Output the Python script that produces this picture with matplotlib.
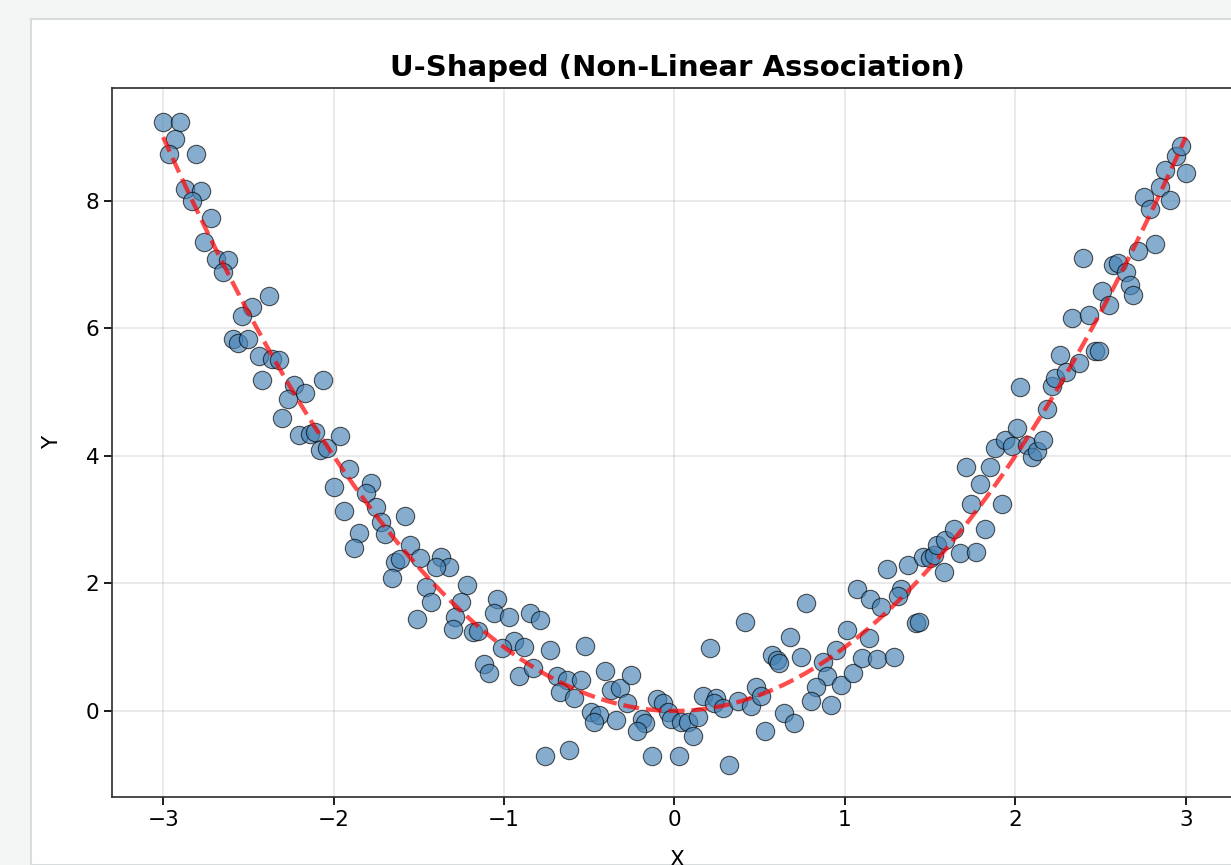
import matplotlib.pyplot as plt
import numpy as np
from matplotlib.patches import Rectangle

# scatter samples around y = x^2
X = [
    -3.00, -2.90, -2.93, -2.965, -2.81, -2.87, -2.78, -2.83, -2.72, -2.76,
    -2.69, -2.62, -2.65, -2.38, -2.48, -2.54, -2.59, -2.56, -2.50, -2.44,
    -2.36, -2.32, -2.42, -2.06, -2.23, -2.17, -2.27, -2.30, -2.20, -2.14,
    -2.11, -2.08, -2.04,
    -1.96, -1.91, -2.00, -1.78, -1.81, -1.94, -1.75, -1.72, -1.58, -1.70,
    -1.85, -1.88, -1.55, -1.64, -1.61, -1.49, -1.37, -1.32, -1.40, -1.66,
    -1.46, -1.22, -1.43, -1.25, -1.51, -1.29, -1.30, -1.18,
    -1.04, -1.06, -0.97, -0.85, -0.79, -1.15, -0.94, -0.88, -1.01, -0.73,
    -0.525, -1.12, -1.09, -0.91, -0.83, -0.69, -0.63, -0.55, -0.67, -0.59,
    -0.41, -0.37, -0.32, -0.255, -0.49, -0.44, -0.47, -0.34, -0.76, -0.62,
    -0.28, -0.105, -0.066, -0.037, -0.19, -0.17, -0.22, -0.018, 0.04, 0.08,
    0.14, 0.11, -0.13, 0.025, 0.32, 0.17, 0.245, 0.23, 0.285, 0.37,
    0.45, 0.48, 0.51, 0.21, 0.415, 0.57, 0.60, 0.616, 0.68, 0.53, 0.645,
    0.70, 0.77, 0.74, 0.87, 0.95, 0.895, 0.83, 0.80, 0.92, 0.98,
    1.045, 1.01, 1.10, 1.14, 1.19, 1.29, 1.07, 1.15, 1.21, 1.25,
    1.37, 1.33, 1.31, 1.415, 1.435, 1.46, 1.50, 1.52, 1.58, 1.54,
    1.59, 1.64, 1.675,
    1.77, 1.825, 1.74, 1.92, 1.79, 1.71, 1.85, 1.88, 1.94, 2.01,
    1.98, 2.07, 2.10, 2.13, 2.16, 2.03, 2.185, 2.215, 2.23, 2.26,
    2.30, 2.375, 2.33, 2.43, 2.47, 2.49, 2.40, 2.51, 2.55, 2.575,
    2.60, 2.65, 2.67, 2.69, 2.72, 2.82, 2.755, 2.79, 2.85, 2.905,
    2.88, 2.94, 2.975, 3.00,
]
Y = [
    9.24, 9.23, 8.97, 8.74, 8.74, 8.18, 8.16, 8.00, 7.73, 7.36,
    7.09, 7.07, 6.89, 6.50, 6.34, 6.20, 5.83, 5.77, 5.83, 5.57,
    5.52, 5.50, 5.19, 5.19, 5.11, 4.98, 4.89, 4.59, 4.33, 4.35,
    4.38, 4.09, 4.12,
    4.31, 3.79, 3.51, 3.58, 3.42, 3.14, 3.20, 2.97, 3.05, 2.78,
    2.79, 2.55, 2.60, 2.34, 2.38, 2.40, 2.42, 2.25, 2.25, 2.08,
    1.95, 1.98, 1.71, 1.71, 1.44, 1.48, 1.28, 1.24,
    1.75, 1.53, 1.47, 1.53, 1.42, 1.26, 1.09, 1.01, 0.98, 0.96,
    1.02, 0.74, 0.60, 0.54, 0.67, 0.54, 0.49, 0.49, 0.30, 0.20,
    0.62, 0.33, 0.36, 0.56, -0.01, -0.06, -0.17, -0.14, -0.71, -0.61,
    0.13, 0.18, 0.13, -0.01, -0.13, -0.19, -0.32, -0.13, -0.18, -0.17,
    -0.09, -0.40, -0.71, -0.71, -0.85, 0.24, 0.20, 0.13, 0.04, 0.15,
    0.07, 0.38, 0.24, 0.98, 1.40, 0.88, 0.80, 0.75, 1.16, -0.31, -0.04,
    -0.19, 1.69, 0.85, 0.77, 0.95, 0.54, 0.38, 0.15, 0.09, 0.41,
    0.60, 1.27, 0.83, 1.14, 0.81, 0.85, 1.92, 1.75, 1.63, 2.22,
    2.29, 1.92, 1.80, 1.375, 1.40, 2.42, 2.40, 2.45, 2.18, 2.60,
    2.68, 2.86, 2.47,
    2.50, 2.85, 3.25, 3.25, 3.56, 3.83, 3.83, 4.12, 4.25, 4.43,
    4.15, 4.17, 3.99, 4.07, 4.25, 5.08, 4.73, 5.10, 5.22, 5.58,
    5.32, 5.46, 6.17, 6.21, 5.64, 5.65, 7.10, 6.58, 6.37, 7.00,
    7.02, 6.89, 6.68, 6.53, 7.22, 7.33, 8.06, 7.87, 8.22, 8.02,
    8.49, 8.70, 8.86, 8.43,
]
X_TICKS = [-3, -2, -1, 0, 1, 2, 3]
Y_TICKS = [0, 2, 4, 6, 8]

W, H = 1231, 865
fig = plt.figure(figsize=(W / 100, H / 100), dpi=100, facecolor="#f4f6f6")
# white card behind the axes
fig.patches.append(Rectangle((31 / W, 0), 1.0, (H - 19) / H, transform=fig.transFigure,
                             facecolor="white", edgecolor="#d8dcdc", lw=1.5, zorder=-10))

ax = fig.add_axes([112 / W, (H - 797) / H, 1130 / W, (797 - 88) / H])
ax.set_facecolor("white")
ax.scatter(X, Y, s=175, color="steelblue", alpha=0.65, edgecolors="black",
           linewidths=0.8, zorder=3)

xs = np.linspace(-3, 3, 200)
ax.plot(xs, xs ** 2, "--", color="red", lw=3.1, alpha=0.7, zorder=4)

ax.set_xlim(-3.3, 3.33)
ax.set_ylim(-1.35, 9.77)
ax.set_xticks(X_TICKS)
ax.set_yticks(Y_TICKS)
ax.tick_params(labelsize=15.6, length=5.5, width=1.25)
for sp in ax.spines.values():
    sp.set_linewidth(1.25)
    sp.set_color("#333333")
ax.grid(True, alpha=0.3, lw=1.25)
ax.set_axisbelow(True)
ax.set_xlabel("X", fontsize=15.6, labelpad=15)
ax.set_ylabel("Y", fontsize=15.6, labelpad=17)
ax.set_title("U-Shaped (Non-Linear Association)", fontsize=21, fontweight="bold", pad=9)

fig.savefig("out.png", dpi=100, facecolor=fig.get_facecolor())
